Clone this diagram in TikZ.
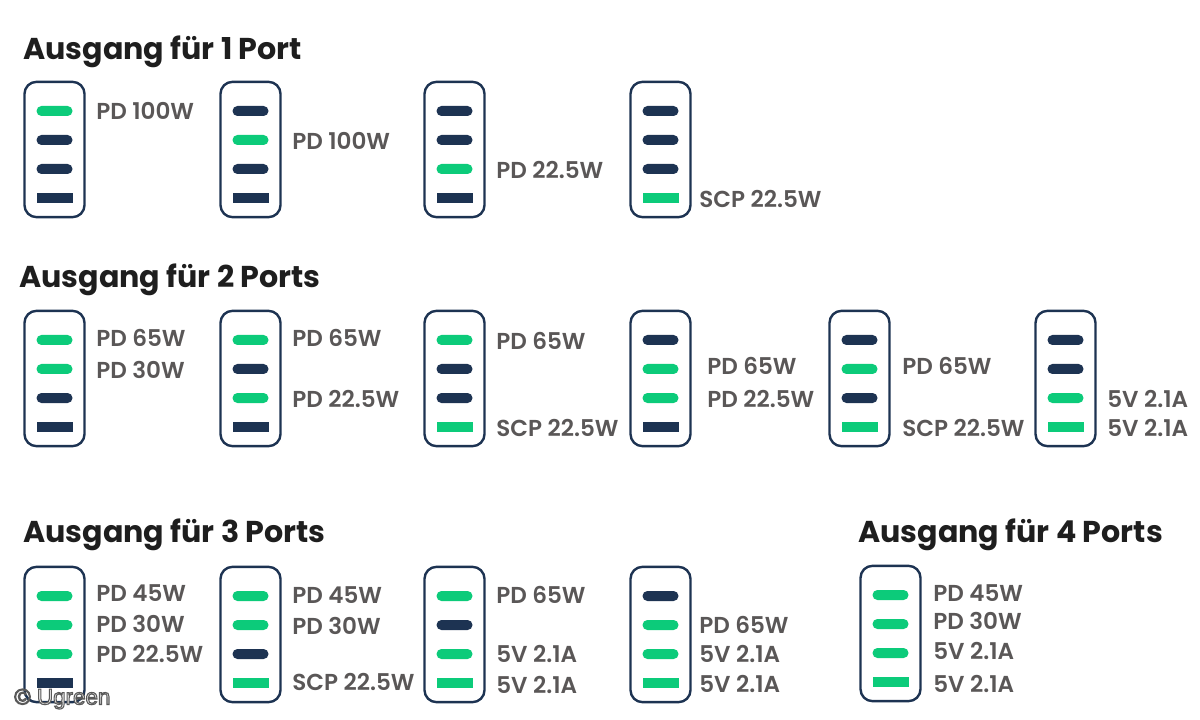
\documentclass[tikz,border=0pt]{standalone}
\usepackage{fontspec}
\usepackage{xcolor}
\usepackage{tikz}
\setmainfont{Poppins}
\newfontfamily\lblfont{Poppins SemiBold}
\newfontfamily\wmfont{Liberation Sans}
\definecolor{navy}{HTML}{1D3352}
\definecolor{portgreen}{HTML}{0CCB7A}
\definecolor{lblgray}{HTML}{5A5757}
\definecolor{titleblack}{HTML}{1E1E1E}
% charger: name, left, top, then the styles of its four ports
\newcommand{\charger}[7]{
    \node[chargerbox] (#1) at (#2+30.5,#3+68.5) {};
    \node[#4] (#1a) at (#2+30.5,#3+30) {};
    \node[#5] (#1b) at (#2+30.5,#3+59) {};
    \node[#6] (#1c) at (#2+30.5,#3+88) {};
    \node[#7] (#1d) at (#2+30.5,#3+117) {};
}

\begin{document}
\begin{tikzpicture}[x=.75pt,y=-.75pt]
    \tikzstyle{chargerbox} = [rectangle, draw=navy, line width=1.8pt, rounded corners=9pt, minimum width=45pt, minimum height=101.5pt, inner sep=0pt]
    \tikzstyle{cport} = [rectangle, rounded corners=3.7pt, minimum width=27pt, minimum height=7.5pt, inner sep=0pt]
    \tikzstyle{aport} = [rectangle, minimum width=27pt, minimum height=7.5pt, inner sep=0pt]
    \tikzstyle{off} = [cport, fill=navy]
    \tikzstyle{on} = [cport, fill=portgreen]
    \tikzstyle{aoff} = [aport, fill=navy]
    \tikzstyle{aon} = [aport, fill=portgreen]
    \tikzstyle{lbl} = [anchor=west, inner sep=0pt, xshift=-.75pt, text=lblgray, font=\lblfont\fontsize{17.3pt}{19pt}\selectfont]
    \tikzstyle{heading} = [anchor=base west, inner sep=0pt, text=titleblack, font=\fontsize{22.6pt}{26pt}\selectfont\bfseries]
    \useasboundingbox (0,0) rectangle (1200,720);
        %%% 1 port %%%
        \node[heading] (head1) at (23,60) {Ausgang für 1 Port};
        \charger{a1}{24}{81}{on}{off}{off}{aoff}
        \charger{a2}{220}{81}{off}{on}{off}{aoff}
        \charger{a3}{424}{81}{off}{off}{on}{aoff}
        \charger{a4}{630}{81}{off}{off}{off}{aon}
        %%% labels
        \node[lbl] (a1l) at (97,111) {PD 100W};
        \node[lbl] (a2l) at (293,141) {PD 100W};
        \node[lbl] (a3l) at (497,170) {PD 22.5W};
        \node[lbl] (a4l) at (700,199) {SCP 22.5W};
        %%% 2 ports %%%
        \node[heading] (head2) at (19,288) {Ausgang für 2 Ports};
        \charger{b1}{24}{310}{on}{on}{off}{aoff}
        \charger{b2}{220}{310}{on}{off}{on}{aoff}
        \charger{b3}{424}{310}{on}{off}{off}{aon}
        \charger{b4}{630}{310}{off}{on}{on}{aoff}
        \charger{b5}{829}{310}{off}{on}{off}{aon}
        \charger{b6}{1035}{310}{off}{off}{on}{aon}
        %%% labels
        \node[lbl] (b1l) at (97,338) {PD 65W};
        \node[lbl] (b1m) at (97,370) {PD 30W};
        \node[lbl] (b2l) at (293,338) {PD 65W};
        \node[lbl] (b2m) at (293,399) {PD 22.5W};
        \node[lbl] (b3l) at (497,341) {PD 65W};
        \node[lbl] (b3m) at (497,428) {SCP 22.5W};
        \node[lbl] (b4l) at (708,366) {PD 65W};
        \node[lbl] (b4m) at (708,399) {PD 22.5W};
        \node[lbl] (b5l) at (903,366) {PD 65W};
        \node[lbl] (b5m) at (903,428) {SCP 22.5W};
        \node[lbl] (b6l) at (1108,399) {5V 2.1A};
        \node[lbl] (b6m) at (1108,428) {5V 2.1A};
        %%% 3 ports %%%
        \node[heading] (head3) at (23,542) {Ausgang für 3 Ports};
        \charger{c1}{24}{566}{on}{on}{on}{aoff}
        \charger{c2}{220}{566}{on}{on}{off}{aon}
        \charger{c3}{424}{566}{on}{off}{on}{aon}
        \charger{c4}{630}{566}{off}{on}{on}{aon}
        %%% labels
        \node[lbl] (c1l) at (97,593) {PD 45W};
        \node[lbl] (c1m) at (97,624) {PD 30W};
        \node[lbl] (c1n) at (97,654) {PD 22.5W};
        \node[lbl] (c2l) at (293,595) {PD 45W};
        \node[lbl] (c2m) at (293,626) {PD 30W};
        \node[lbl] (c2n) at (293,682) {SCP 22.5W};
        \node[lbl] (c3l) at (497,595) {PD 65W};
        \node[lbl] (c3m) at (497,654) {5V 2.1A};
        \node[lbl] (c3n) at (497,685) {5V 2.1A};
        \node[lbl] (c4l) at (700,625) {PD 65W};
        \node[lbl] (c4m) at (700,654) {5V 2.1A};
        \node[lbl] (c4n) at (700,684) {5V 2.1A};
        %%% 4 ports %%%
        \node[heading] (head4) at (858,542) {Ausgang für 4 Ports};
        \charger{d1}{860}{565}{on}{on}{on}{aon}
        %%% labels
        \node[lbl] (d1l) at (934,593) {PD 45W};
        \node[lbl] (d1m) at (934,621) {PD 30W};
        \node[lbl] (d1n) at (934,651) {5V 2.1A};
        \node[lbl] (d1o) at (934,684) {5V 2.1A};
        %%% watermark
        \node[anchor=west, inner sep=0pt, text=white!92!black, font=\wmfont\fontsize{16.8pt}{18pt}\selectfont] (credit) at (14,699) {\special{pdf:code q 2 Tr 0.8 w 0.35 G}© Ugreen\special{pdf:code Q}};
    \end{tikzpicture}
\end{document}
